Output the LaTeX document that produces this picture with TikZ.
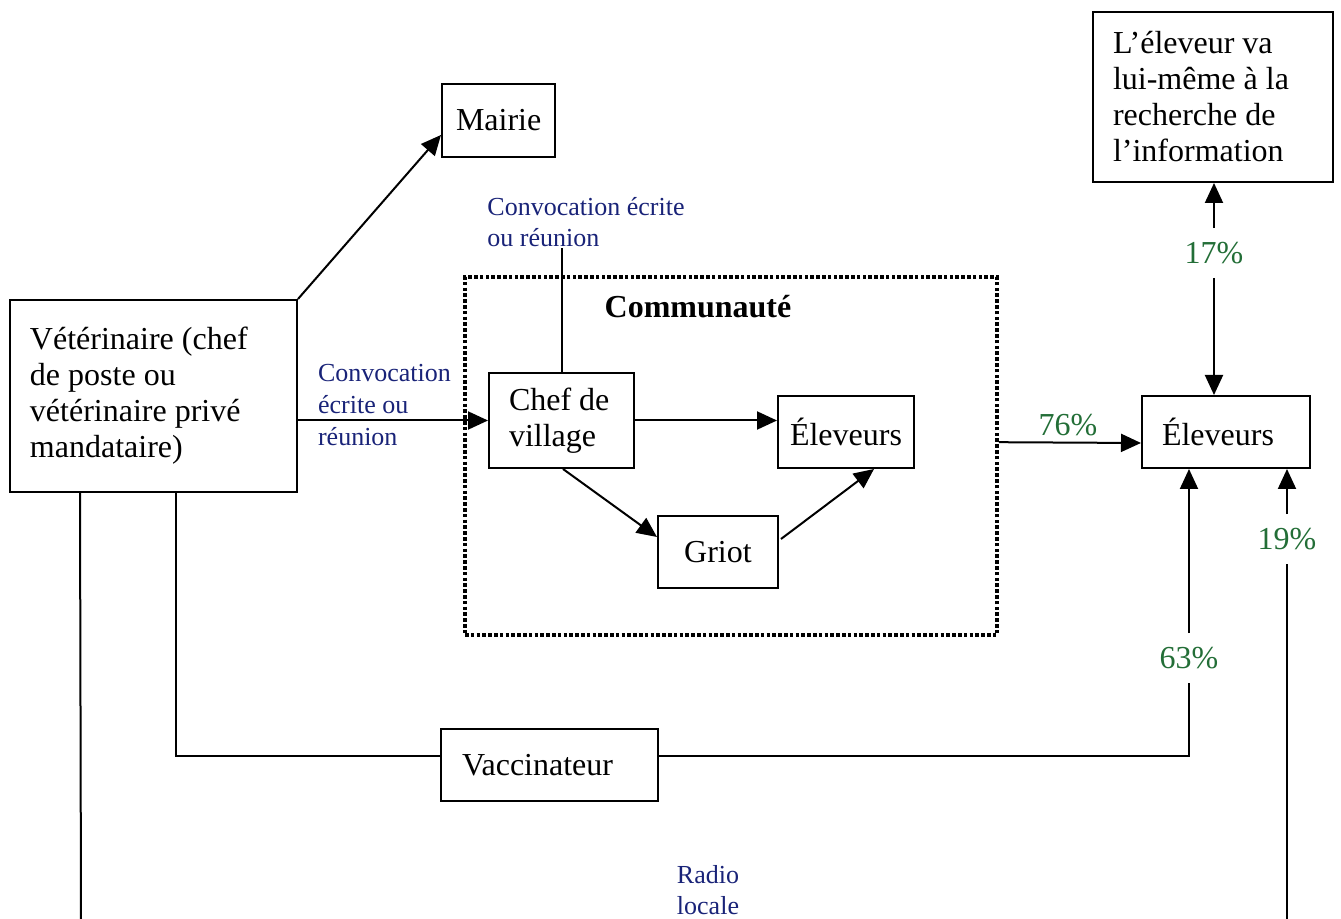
\documentclass[tikz,border=0pt]{standalone}
\usepackage{fontspec}
\setmainfont{Liberation Serif}
\usetikzlibrary{arrows.meta,calc}
\definecolor{lblue}{RGB}{25,35,120}
\definecolor{lgreen}{RGB}{35,110,55}
\newdimen\pxu \pxu=0.5pt
\newcommand\mainsz{\fontsize{16pt}{18pt}\selectfont}
\newcommand\bluesz{\fontsize{13pt}{15.5pt}\selectfont}
\begin{document}
\begin{tikzpicture}[x=0.5pt,y=-0.5pt, line width=1pt,
  box/.style={draw, rectangle, inner sep=0pt, font=\mainsz},
  arr/.style={-{Triangle[length=10pt,width=9pt]}},
  blab/.style={font=\bluesz, text=lblue, inner sep=0pt, align=flush left},
  pct/.style={font=\mainsz, text=lgreen, inner xsep=2pt, inner ysep=6.5pt},
  commbox/.style={draw, rectangle, line width=1.8pt, dash pattern=on 1.8pt off 1.1pt, inner sep=0pt}]

\useasboundingbox (0,0) rectangle (1341,919);

% boxes
\node[box, align=flush left, text width=247\pxu, inner xsep=20\pxu, minimum height=192\pxu] (vet) at (153.5,396)
  {Vétérinaire (chef\\de poste ou\\vétérinaire privé\\mandataire)};
\node[box, align=flush left, text width=85\pxu, inner xsep=14\pxu, minimum height=73\pxu] (mairie) at (498.5,120.5) {Mairie};
\node[box, align=flush left, text width=200\pxu, inner xsep=20\pxu, minimum height=170\pxu] (topright) at (1213,97)
  {L’éleveur va\\lui-même à la\\recherche de\\l’information};
\node[commbox, minimum width=532\pxu, minimum height=358\pxu] (comm) at (731,456) {};
\node[font=\mainsz\bfseries] (commlab) at (698,307) {Communauté};
\node[box, align=flush left, text width=105\pxu, inner xsep=20\pxu, minimum height=95\pxu] (chef) at (561.5,420.5)
  {Chef de\\village};
\node[box, minimum width=136\pxu, minimum height=72\pxu] (elev1) at (846,432) {Éleveurs};
\node[box, minimum width=120\pxu, minimum height=72\pxu] (griot) at (718,552) {Griot};
\node[box, align=flush left, text width=128\pxu, inner xsep=20\pxu, minimum height=72\pxu] (elev2) at (1226,432) {Éleveurs};
\node[box, align=flush left, text width=175\pxu, inner xsep=21\pxu, minimum height=72\pxu] (vacc) at (549.5,765) {Vaccinateur};

% labels
\node[blab] (convtop) at (586,222) {Convocation écrite\\ou réunion};
\node[blab, font=\fontsize{13pt}{16pt}\selectfont] (convleft) at (384.5,405) {Convocation\\écrite ou\\réunion};
\node[blab, align=center] (radio) at (708,890) {Radio\\locale};
\node[pct] (p17) at (1214,253) {17\%};
\node[pct] (p76) at (1068,425) {76\%};
\node[pct] (p63) at (1189,658) {63\%};
\node[pct] (p19) at (1287,539) {19\%};

\coordinate (bl) at (81,919);
\coordinate (br) at (1287,919);

% connectors
\draw[arr] (vet.north east) -- ($(mairie.west)+(0,14.5)$);
\draw[arr] (vet.east |- chef.west) -- (chef.west);
\draw (chef.north) -- (chef.north |- convtop.south);
\draw[arr] (chef.east) -- (chef.east -| elev1.west);
\draw[arr] ($(chef.south)+(1.5,0)$) -- ($(griot.north west)+(0,22)$);
\draw[arr] ($(griot.north east)+(2,24)$) -- ($(elev1.south west)+(97,0)$);
\draw[arr] ($(comm.north east)+(0,167)$) -- ($(elev2.north west)+(0,48)$);
\draw[arr] (p17.north) -- (p17.north |- topright.south);
\draw[arr] (p17.south) -- (p17.south |- elev2.north);
\draw ($(vet.south west)+(167,0)$) |- ($(vacc.west)+(0,-9)$);
\draw ($(vacc.east)+(0,-9)$) -| (p63.south);
\draw[arr] (p63.north) -- (p63.north |- elev2.south);
\draw ($(vet.south west)+(71,0)$) -- (bl);
\draw (br) -- (p19.south);
\draw[arr] (p19.north) -- (p19.north |- elev2.south);
\end{tikzpicture}
\end{document}
